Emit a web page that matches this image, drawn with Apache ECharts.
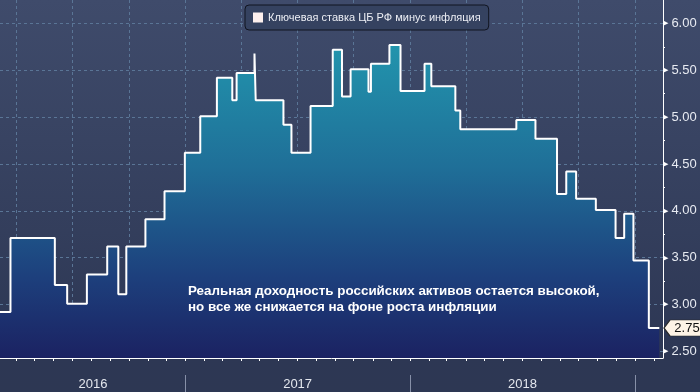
<!DOCTYPE html>
<html>
<head>
<meta charset="utf-8">
<script src="https://cdn.jsdelivr.net/npm/echarts@6/dist/echarts.min.js"></script>
<style>
html,body{margin:0;padding:0;background:#333d5a;}
#c{width:700px;height:392px;}
</style>
</head>
<body>
<div id="c"></div>
<script>
// ---- data ----
const seriesName = 'Ключевая ставка ЦБ РФ минус инфляция';
const dates = [
  '2016-03-06','2016-03-23','2016-06-03','2016-06-23','2016-07-25','2016-08-27','2016-09-14','2016-09-27',
  '2016-10-28','2016-11-28','2016-12-31','2017-01-25','2017-02-21','2017-03-18','2017-03-25','2017-04-23',
  '2017-04-25','2017-06-09','2017-06-22','2017-07-23','2017-08-28','2017-09-12','2017-09-26','2017-10-25',
  '2017-10-29','2017-11-28','2017-12-16','2018-01-24','2018-02-04','2018-03-15','2018-03-23','2018-06-22',
  '2018-07-23','2018-08-27','2018-09-11','2018-09-27','2018-10-29','2018-11-30','2018-12-14','2018-12-29',
  '2019-01-23','2019-02-09'
];
const values = [
  2.92,3.71,3.21,3.01,3.32,3.62,3.11,3.62,
  3.91,4.21,4.62,5.01,5.42,5.18,5.47,5.68,
  5.18,4.92,4.62,5.12,5.72,5.22,5.51,5.27,
  5.57,5.77,5.28,5.57,5.33,5.07,4.87,4.97,
  4.77,4.18,4.42,4.13,4.01,3.71,3.97,3.47,
  2.75,2.75
];
const yLabelValues = [2.5,3.0,3.5,4.0,4.5,5.0,5.5,6.0];
const yMinorValues = [2.75,3.25,3.75,4.25,4.75,5.25,5.75];
const yearLabels = ['2016','2017','2018'];
const yearLabelDates = ['2016-08-04','2017-07-02','2018-07-02'];
const yearStarts = ['2017-01-01','2018-01-01','2019-01-01'];
const annotation = 'Реальная доходность российских активов остается высокой,\nно все же снижается на фоне роста инфляции';
const xMin = '2016-03-06', xMax = '2019-02-15';
const yMin = 2.43, yMax = 6.25;

// ---- helpers ----
const ts = s => { const p = s.split('-').map(Number); return new Date(p[0], p[1]-1, p[2]).getTime(); };
const monthTicks = [];
for (let k = 0; k < 35; k++) {
  const d = new Date(2016, 3 + k, 1);
  if (d.getTime() > ts(xMax)) break;
  monthTicks.push(d.getTime());
}
const quarterTicks = monthTicks.filter(v => [0,3,6,9].includes(new Date(v).getMonth()));
const data = dates.map((d,i) => [ts(d), values[i]]);
const lastValue = values[values.length-1];
const yearLabelTs = yearLabelDates.map(ts);

const font = 'Liberation Sans, Arial, sans-serif';
const chart = echarts.init(document.getElementById('c'), null, {renderer:'canvas'});
const baseX = {type:'value', min: ts(xMin), max: ts(xMax), position:'bottom', gridIndex:0, scale:true};

chart.setOption({
  animation:false,
  backgroundColor: new echarts.graphic.LinearGradient(0,0,0,1,[
    {offset:0,color:'#3f4b6b'},{offset:0.9,color:'#2d3754'},{offset:1,color:'#2d3753'}]),
  title:{
    text: annotation, left:183, top:278,
    textStyle:{color:'#ffffff', fontSize:13.4, fontWeight:'bold', fontFamily:font, lineHeight:16}
  },
  legend:{
    data:[seriesName], left:245, top:5, padding:[7,8,7,8],
    backgroundColor:'#354260', borderColor:'#101420', borderWidth:1, borderRadius:4,
    icon:'rect', itemWidth:10, itemHeight:10, itemGap:5,
    textStyle:{color:'#eceef4', fontSize:11, fontFamily:font}
  },
  grid:{left:0, right:37, top:0, bottom:34},
  xAxis:[
    Object.assign({}, baseX, {
      axisLine:{show:true, lineStyle:{color:'#ffffff', width:1}},
      axisTick:{show:true, customValues: monthTicks, length:3, lineStyle:{color:'#ffffff'}},
      axisLabel:{show:false}, splitLine:{show:false}
    }),
    Object.assign({}, baseX, {
      axisLine:{show:false},
      axisTick:{show:false, customValues: quarterTicks},
      axisLabel:{show:false},
      splitLine:{show:true, lineStyle:{color:'#5a7596', type:[3,3], width:1}}
    }),
    Object.assign({}, baseX, {
      offset:17,
      axisLine:{show:false},
      axisTick:{show:true, customValues: yearStarts.map(ts), length:17, lineStyle:{color:'#8790a8'}},
      axisLabel:{show:true, customValues: yearLabelTs, margin:3,
        color:'#e4e7ee', fontSize:13, fontFamily:font,
        formatter: v => { const i = yearLabelTs.indexOf(v); return i >= 0 ? yearLabels[i] : ''; }},
      splitLine:{show:false}
    })
  ],
  yAxis:[
    {type:'value', position:'right', min:yMin, max:yMax,
      axisLine:{show:true, lineStyle:{color:'#ffffff', width:1}},
      axisTick:{show:true, customValues: yMinorValues, length:2, lineStyle:{color:'#ffffff'}},
      axisLabel:{show:true, customValues: yLabelValues, margin:0,
        formatter: v => '{t|▶}{v|' + v.toFixed(2) + '}',
        rich:{
          t:{color:'#ffffff', fontSize:7, fontFamily:'DejaVu Sans', padding:[0,3,0,0]},
          v:{color:'#e8ebf2', fontSize:13, fontFamily:font}
        }},
      splitLine:{show:false}
    },
    {type:'value', position:'right', min:yMin, max:yMax,
      axisLine:{show:false},
      axisTick:{show:false, customValues: yLabelValues},
      axisLabel:{show:false},
      splitLine:{show:true, lineStyle:{color:'#5a7596', type:[3,3], width:1}}
    }
  ],
  series:[{
    name: seriesName, type:'line', step:'end', xAxisIndex:0, yAxisIndex:0,
    data: data, showSymbol:false, symbol:'none',
    itemStyle:{color:'#fdf0ee'},
    lineStyle:{color:'#ffffff', width:2},
    areaStyle:{origin:'start', opacity:1,
      color: new echarts.graphic.LinearGradient(0,40,0,358,[
        {offset:0,color:'#2296ae'},{offset:0.4,color:'#1f6f98'},
        {offset:0.75,color:'#1d3f7c'},{offset:1,color:'#1b2262'}], true)},
    markPoint:{
      symbol:'path://M0 8 L6 0 L40 0 L40 16 L6 16 Z',
      symbolSize:[40,16], symbolKeepAspect:false,
      symbolOffset:[21,0],
      itemStyle:{color:'#fdf3e6', borderColor:'#2a2a2a', borderWidth:1},
      label:{show:true, position:'inside', offset:[3,0], color:'#111', fontSize:13, fontFamily:font,
        formatter: p => p.value.toFixed(2)},
      data:[{coord:[ts(xMax), lastValue], value:lastValue}]
    }
  }]
});
</script>
</body>
</html>
